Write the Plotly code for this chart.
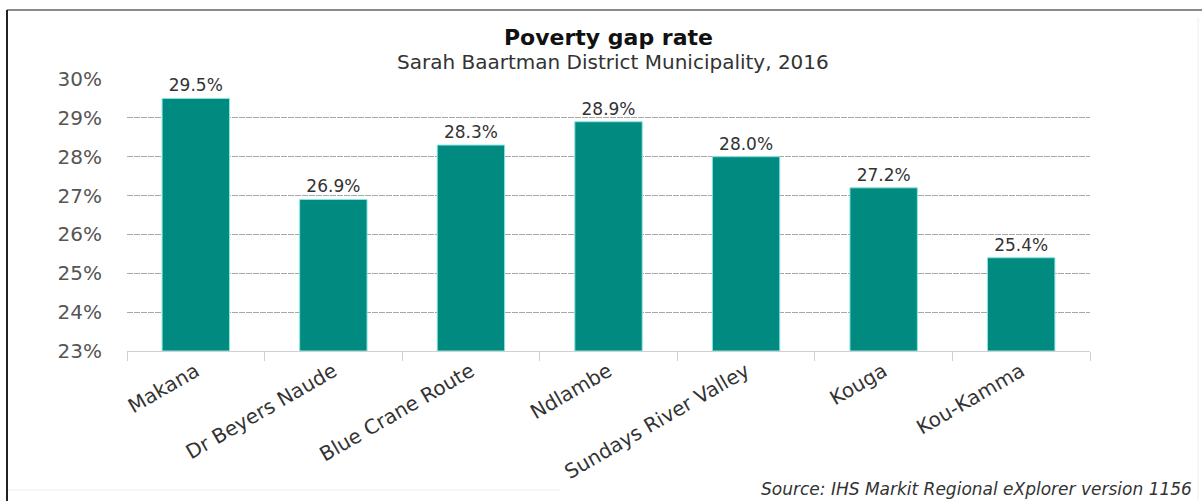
import plotly.graph_objects as go

municipalities = ["Makana", "Dr Beyers Naude", "Blue Crane Route", "Ndlambe",
                  "Sundays River Valley", "Kouga", "Kou-Kamma"]
poverty_gap = [29.5, 26.9, 28.3, 28.9, 28.0, 27.2, 25.4]
y_ticks = [23, 24, 25, 26, 27, 28, 29, 30]
y_tick_text = [f"{v}%" for v in y_ticks]

FONT = "DejaVu Sans"
W, H = 1202, 501
L, R, T, B = 127, 112, 79, 150
plot_w, plot_h = W - L - R, H - T - B


def px_x(x):
    return (x - L) / plot_w


def px_y(y):
    return (H - B - y) / plot_h


fig = go.Figure(go.Bar(
    x=municipalities,
    y=[v - 23 for v in poverty_gap],
    base=23,
    marker=dict(color="#008A80", line=dict(color="#8CE6E0", width=1)),
    text=[f"{v:.1f}%" for v in poverty_gap],
    textposition="outside",
    textfont=dict(family=FONT, size=17, color="#333333"),
    cliponaxis=False,
    width=0.49,
))

fig.update_layout(
    width=W, height=H,
    margin=dict(l=L, r=R, t=T, b=B),
    paper_bgcolor="white", plot_bgcolor="white",
    showlegend=False,
    font=dict(family=FONT, color="#555555"),
)

fig.update_yaxes(
    range=[23, 30],
    tickvals=y_ticks, ticktext=y_tick_text,
    tickfont=dict(family=FONT, size=20, color="#555555"),
    showgrid=True, gridcolor="#A8A8A8", gridwidth=1, griddash="6px,1px",
    zeroline=False, showline=False,
    ticks="", ticklabelstandoff=24,
)

fig.update_xaxes(
    tickangle=-30,
    tickfont=dict(family=FONT, size=20, color="#333333"),
    showline=True, linecolor="#D0D0D0", linewidth=1,
    ticks="outside", tickson="boundaries", ticklen=9, tickcolor="#D0D0D0",
    showgrid=False,
)

annotations = [
    dict(text="<b>Poverty gap rate</b>", x=0.5, y=px_y(37),
         font=dict(family=FONT, size=22, color="#111111")),
    dict(text="Sarah Baartman District Municipality, 2016", x=0.505, y=px_y(62),
         font=dict(family=FONT, size=20, color="#333333")),
    dict(text="<i>Source: IHS Markit Regional eXplorer version 1156</i>",
         x=px_x(1194), y=px_y(501), xanchor="right", yanchor="bottom",
         font=dict(family=FONT, size=17, color="#333333")),
]
for a in annotations:
    a.setdefault("xanchor", "center")
    a.setdefault("yanchor", "middle")
    fig.add_annotation(xref="paper", yref="paper", showarrow=False, **a)

# outer frame around the chart
fig.add_shape(type="line", xref="paper", yref="paper",
              x0=px_x(7), x1=px_x(1202), y0=px_y(10), y1=px_y(10),
              line=dict(color="#8A8A8A", width=2))
fig.add_shape(type="line", xref="paper", yref="paper",
              x0=px_x(7), x1=px_x(7), y0=px_y(10), y1=px_y(501),
              line=dict(color="#222222", width=2))
fig.add_shape(type="line", xref="paper", yref="paper",
              x0=px_x(1198), x1=px_x(1198), y0=px_y(18), y1=px_y(501),
              line=dict(color="#EEEEEE", width=1))
fig.add_shape(type="line", xref="paper", yref="paper",
              x0=px_x(8), x1=px_x(560), y0=px_y(490), y1=px_y(490),
              line=dict(color="#EEEEEE", width=1))

fig.write_html("out.html")
